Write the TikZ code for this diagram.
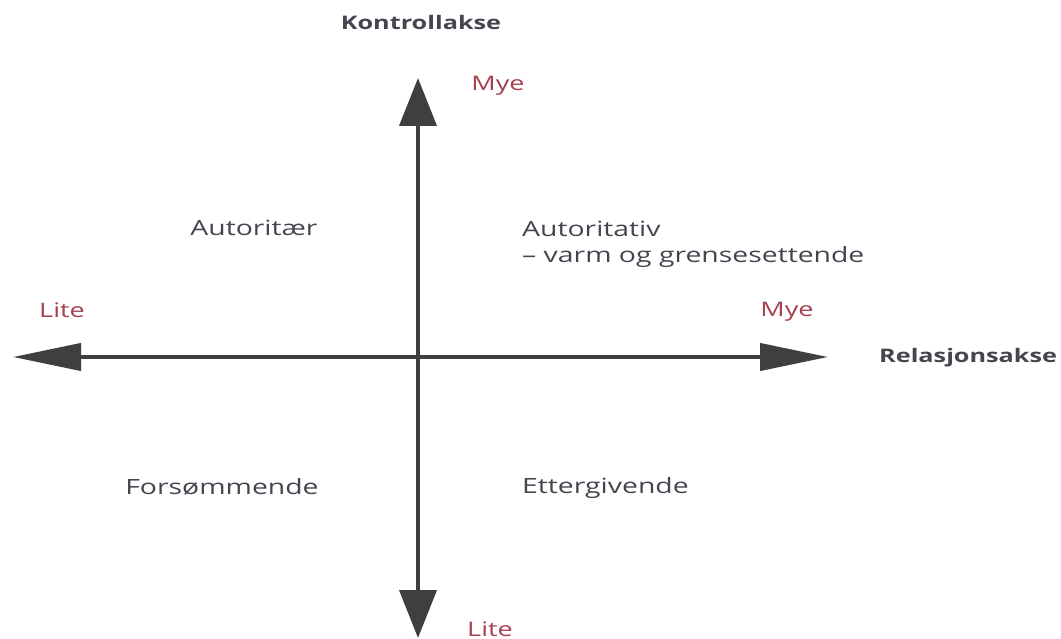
\documentclass[tikz,border=0pt]{standalone}
\usepackage{fontspec}
\setmainfont[FakeStretch=1.35]{Open Sans}
\usetikzlibrary{arrows.meta}
\definecolor{axisgray}{HTML}{3F3F42}
\definecolor{textgray}{HTML}{45454F}
\definecolor{endred}{HTML}{A3414E}
\tikzset{
  axis/.style={line width=4pt,color=axisgray},
  vtip/.style={-{Triangle[length=48pt,width=37pt]}},
  htip/.style={-{Triangle[length=68pt,width=27pt]}},
  axlabel/.style={font=\fontsize{18.7}{22}\selectfont\bfseries,text=textgray},
  endlabel/.style={font=\fontsize{20}{24}\selectfont,text=endred},
  style/.style={font=\fontsize{21}{26}\selectfont,text=textgray}
}
\begin{document}
\begin{tikzpicture}[x=1pt,y=-1pt]
  \useasboundingbox (0,0) rectangle (1061,639);
  % origin and axis ends
  \coordinate (O) at (418,357);
  \coordinate (top) at (418,78);
  \coordinate (bottom) at (418,638);
  \coordinate (left) at (13,357);
  \coordinate (right) at (828,357);
  \draw[axis,vtip] (O) -- (top);
  \draw[axis,vtip] (O) -- (bottom);
  \draw[axis,htip] (O) -- (left);
  \draw[axis,htip] (O) -- (right);
  % axis names
  \node[axlabel] (kontroll) at (421,22) {Kontrollakse};
  \node[axlabel,anchor=west,inner sep=0pt] (relasjon) at (879,358) {Relasjonsakse};
  % ends of the axes
  \node[endlabel] (mye1) at (498,86) {Mye};
  \node[endlabel] (lite1) at (490,629) {Lite};
  \node[endlabel] (lite2) at (62,310) {Lite};
  \node[endlabel] (mye2) at (787,312) {Mye};
  % the four styles
  \node[style] (autoritaer) at (254,228) {Autoritær};
  \node[style,anchor=north west,align=left,inner sep=0pt] (autoritativ) at (522,221)
    {Autoritativ\\– varm og grensesettende};
  \node[style] (forsommende) at (222,487) {Forsømmende};
  \node[style,anchor=west,inner sep=0pt] (ettergivende) at (522,488) {Ettergivende};
\end{tikzpicture}
\end{document}
